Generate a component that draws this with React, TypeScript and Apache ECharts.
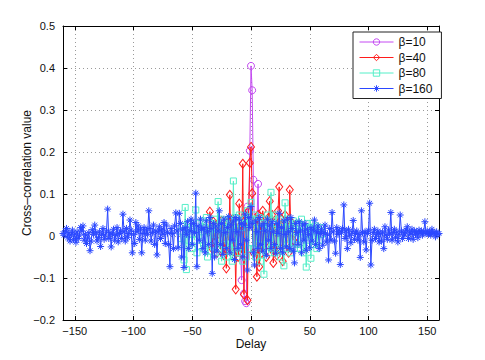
import React, { useEffect, useRef } from "react";
import * as echarts from "echarts";

// ---------- data ----------
const seriesNames = ["β=10", "β=40", "β=80", "β=160"];

// β=10: delays -10 .. 10
const start10 = -10;
const values10 = [
  0.01, -0.02, -0.105, 0.03, -0.137, -0.155, -0.16, 0.07, 0.038, 0.203,
  0.405, 0.347, 0.134, 0.02, -0.04, 0.03, 0.124, -0.03, 0.01, -0.02, 0.005,
];

// β=40: delays -36 .. 36
const start40 = -36;
const values40 = [
  0.010, 0.058, 0.020, -0.030, 0.034, -0.010, 0.024, -0.040, 0.030, 0.004,
  -0.020, 0.036, 0.010, -0.046, 0.020, -0.077, 0.030, -0.010, 0.098, -0.030,
  0.040, -0.036, 0.020, -0.127, 0.030, -0.050, 0.077, 0.010, -0.040, 0.172,
  -0.139, 0.050, 0.020, -0.153, 0.060, 0.174, 0.212, 0.102, -0.040, 0.030,
  0.040, -0.097, 0.050, -0.073, 0.030, -0.040, 0.060, -0.020, 0.036, -0.050,
  0.020, 0.044, 0.083, -0.030, 0.050, -0.064, 0.030, 0.010, -0.046, 0.060,
  0.117, -0.030, 0.040, -0.060, 0.020, 0.050, -0.020, 0.030, -0.040, 0.110,
  0.010, 0.030, -0.010,
];

// β=80: delays -60 .. 60
const start80 = -60;
const values80 = [
  0.010, -0.020, 0.024, -0.057, 0.068, -0.080, 0.020, -0.010, 0.030, 0.004,
  -0.030, 0.020, -0.010, 0.062, -0.040, 0.016, 0.030, -0.024, 0.010, 0.036,
  -0.030, 0.020, 0.044, -0.050, 0.010, 0.030, -0.036, 0.020, -0.010, 0.040,
  -0.040, 0.016, 0.082, -0.030, 0.040, -0.060, 0.020, 0.036, -0.020, 0.030,
  -0.050, 0.040, -0.030, 0.020, -0.060, 0.131, -0.020, 0.044, -0.040, 0.030,
  0.050, -0.040, 0.020, -0.060, 0.040, 0.030, -0.050, 0.060, -0.030, 0.040,
  0.080, 0.040, -0.030, 0.050, -0.050, 0.030, -0.020, 0.044, -0.060, 0.020,
  0.030, -0.091, 0.040, -0.020, 0.050, -0.040, 0.020, 0.104, -0.030, 0.030,
  -0.040, 0.050, 0.010, -0.030, 0.040, -0.050, 0.030, 0.020, -0.071, 0.079,
  -0.030, 0.040, -0.020, 0.030, -0.040, 0.020, 0.036, -0.030, 0.010, 0.030,
  -0.020, 0.024, -0.030, 0.040, 0.010, -0.040, 0.020, -0.074, 0.030, -0.010,
  0.020, -0.053, 0.030, -0.020, 0.010, 0.024, -0.030, 0.016, -0.010, 0.020,
  0.004,
];

// β=160: delays -160 .. 160
const start160 = -160;
const values160 = [
  0.006, 0.002, 0.012, 0.018, -0.004, 0.008, -0.012, 0.003, 0.014, -0.008,
  0.005, -0.015, 0.010, -0.006, 0.002, 0.020, 0.012, 0.024, -0.010, 0.004,
  -0.018, -0.005, 0.008, -0.035, -0.012, 0.015, 0.004, 0.026, 0.008, -0.012,
  -0.004, 0.010, -0.025, 0.004, 0.018, -0.008, 0.002, 0.012, 0.064, -0.006,
  0.008, -0.026, 0.004, 0.016, -0.010, 0.002, 0.020, -0.014, 0.006, 0.012,
  -0.006, 0.052, 0.010, -0.012, 0.018, -0.004, 0.006, 0.038, 0.014, -0.040,
  0.004, -0.018, 0.032, 0.010, 0.024, -0.008, 0.016, -0.040, 0.006, 0.020,
  -0.010, 0.014, 0.004, 0.060, 0.018, -0.012, 0.008, 0.026, -0.020, 0.012,
  -0.045, 0.010, 0.022, -0.006, 0.016, 0.004, 0.032, -0.018, 0.026, 0.008,
  -0.020, -0.073, 0.018, 0.006, -0.030, 0.024, 0.055, 0.012, -0.028, 0.054,
  0.030, -0.050, 0.016, -0.075, 0.020, 0.004, 0.034, -0.030, 0.012, 0.040,
  -0.020, 0.030, 0.008, 0.102, -0.073, 0.024, -0.010, 0.040, 0.016, -0.030,
  0.020, -0.040, 0.036, 0.010, -0.020, 0.044, 0.018, -0.089, 0.030, -0.050,
  0.024, -0.036, 0.012, 0.060, -0.020, 0.030, -0.044, 0.040, 0.008, -0.030,
  0.020, 0.046, -0.040, 0.028, -0.010, 0.036, -0.056, 0.044, 0.010, -0.030,
  0.040, -0.020, 0.030, -0.050, 0.026, 0.052, -0.010, -0.081, 0.044, 0.020,
  0.070, 0.030, -0.040, -0.069, 0.036, 0.010, -0.030, 0.044, -0.020, 0.024,
  -0.036, 0.030, 0.012, -0.046, 0.040, -0.010, 0.026, -0.030, 0.034, 0.010,
  -0.020, -0.041, 0.030, 0.006, 0.054, -0.030, 0.020, -0.040, 0.036, 0.004,
  -0.026, 0.040, 0.010, -0.030, 0.044, 0.018, -0.036, -0.064, 0.030, 0.008,
  -0.020, 0.034, 0.012, -0.040, 0.026, -0.010, 0.030, -0.034, 0.016, 0.004,
  -0.028, 0.020, -0.012, 0.014, 0.038, -0.020, 0.010, 0.024, -0.030, 0.006,
  0.016, -0.022, 0.008, 0.026, -0.014, 0.004, -0.057, 0.018, -0.010, 0.056,
  0.010, -0.012, -0.041, 0.020, 0.004, 0.014, -0.068, 0.008, 0.018, 0.074,
  -0.006, 0.012, -0.030, 0.016, 0.002, -0.016, 0.010, 0.037, -0.008, 0.006,
  0.012, -0.010, 0.004, -0.051, 0.060, 0.008, -0.014, 0.010, -0.033, 0.006,
  0.014, 0.078, -0.069, -0.010, 0.008, 0.016, -0.006, 0.004, 0.012, -0.014,
  0.006, -0.012, 0.010, -0.030, 0.022, 0.002, -0.008, 0.014, 0.004, 0.056,
  -0.010, 0.008, 0.016, -0.004, 0.010, -0.014, 0.004, 0.050, 0.012, -0.006,
  0.008, 0.002, 0.014, 0.022, -0.006, 0.010, 0.004, 0.016, -0.008, 0.012,
  0.004, 0.010, -0.004, 0.014, 0.006, 0.012, 0.002, 0.010, 0.034, 0.006,
  0.012, 0.004, 0.010, 0.002, 0.016, 0.006, 0.008, -0.002, 0.010, 0.004, 0.006,
];

const xTicks = [-150, -100, -50, 0, 50, 100, 150];

// ---------- styling ----------
const FONT = "'Liberation Sans', Arial, Helvetica, sans-serif";
const colors = ["#c44af2", "#ff1c1c", "#55efc8", "#2b48ff"];
const ASTERISK =
  "path://M5 0L5 10M0 5L10 5M1.6 1.6L8.4 8.4M1.6 8.4L8.4 1.6";
const symbols = ["circle", "diamond", "rect", ASTERISK];
const symbolSizes = [7, [7, 9], 6, 7];

const fmtMinus = (s: string) => s.replace("-", "\u2212");

function toPairs(start: number, vals: number[]) {
  return vals.map((v, i) => [start + i, v]);
}

export default function App() {
  const ref = useRef<HTMLDivElement>(null);

  useEffect(() => {
    if (!ref.current) return;
    const chart = echarts.init(ref.current, null, { renderer: "svg" });
    const datasets = [
      toPairs(start10, values10),
      toPairs(start40, values40),
      toPairs(start80, values80),
      toPairs(start160, values160),
    ];

    const gridLine = { show: true, lineStyle: { color: "#9a9a9a", type: [1, 3], width: 1 } };
    const axisLine = { show: true, onZero: false, lineStyle: { color: "#000", width: 1 } };
    const tick = (vals: number[]) => ({
      show: true,
      inside: true,
      length: 4,
      customValues: vals,
      lineStyle: { color: "#000", width: 1 },
    });

    chart.setOption({
      animation: false,
      backgroundColor: "#fff",
      textStyle: { fontFamily: FONT },
      grid: { left: 63, right: 46, top: 26, bottom: 40, containLabel: false },
      legend: {
        orient: "vertical",
        left: 353,
        top: 32,
        padding: [4, 9, 4, 6],
        itemWidth: 34,
        itemHeight: 8,
        itemGap: 3.5,
        backgroundColor: "#fff",
        borderColor: "#222",
        borderWidth: 1,
        borderRadius: 0,
        lineStyle: { width: 1 },
        itemStyle: { borderWidth: 1 },
        textStyle: { fontSize: 12, color: "#111", fontFamily: FONT, lineHeight: 12 },
        data: seriesNames,
      },
      xAxis: [
        {
          type: "value",
          min: -160,
          max: 160,
          name: "Delay",
          nameLocation: "middle",
          nameGap: 18,
          nameMoveOverlap: false,
          nameTextStyle: { fontSize: 12, color: "#111", fontFamily: FONT },
          axisLine,
          axisTick: tick(xTicks),
          axisLabel: {
            customValues: xTicks,
            margin: 5,
            fontSize: 11,
            color: "#111",
            fontFamily: FONT,
            formatter: (v: number) => fmtMinus(String(v)),
          },
          splitLine: gridLine,
        },
        {
          type: "value",
          position: "top",
          min: -160,
          max: 160,
          axisLine,
          axisTick: tick(xTicks),
          axisLabel: { show: false, customValues: xTicks },
          splitLine: { show: false },
        },
      ],
      yAxis: [
        {
          type: "value",
          min: -0.2,
          max: 0.5,
          interval: 0.1,
          name: "Cross\u2013correlation value",
          nameLocation: "middle",
          nameGap: 30,
          nameMoveOverlap: false,
          nameTextStyle: { fontSize: 12, color: "#111", fontFamily: FONT },
          axisLine,
          axisTick: { show: true, inside: true, length: 4, lineStyle: { color: "#000" } },
          axisLabel: {
            margin: 8,
            fontSize: 11,
            color: "#111",
            fontFamily: FONT,
            formatter: (v: number) =>
              Math.abs(v) < 1e-9 ? "0" : fmtMinus(v.toFixed(1)),
          },
          splitLine: gridLine,
        },
        {
          type: "value",
          position: "right",
          min: -0.2,
          max: 0.5,
          interval: 0.1,
          axisLine,
          axisTick: { show: true, inside: true, length: 4, lineStyle: { color: "#000" } },
          axisLabel: { show: false },
          splitLine: { show: false },
        },
      ],
      series: seriesNames.map((name, i) => ({
        name,
        type: "line",
        xAxisIndex: 0,
        yAxisIndex: 0,
        data: datasets[i],
        symbol: symbols[i],
        symbolSize: symbolSizes[i],
        showAllSymbol: true,
        lineStyle: { color: colors[i], width: 1 },
        itemStyle: { color: "rgba(0,0,0,0)", borderColor: colors[i], borderWidth: 1 },
        emphasis: { disabled: true },
        z: 2 + i,
      })),
    });

    return () => chart.dispose();
  }, []);

  return (
    <div
      ref={ref}
      style={{ position: "fixed", left: 0, top: 0, width: 485, height: 360 }}
    />
  );
}
